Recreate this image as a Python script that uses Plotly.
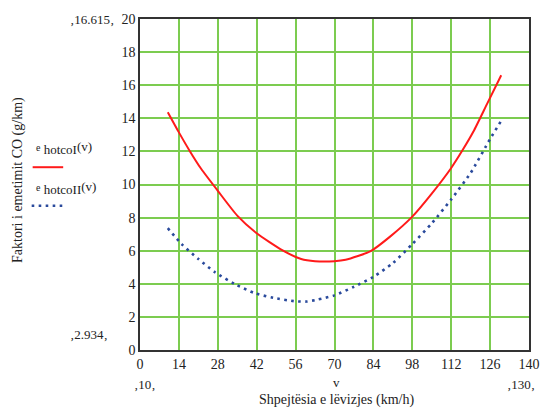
import plotly.graph_objects as go

# Data
v_red = [10, 14, 18, 22, 28, 35, 42, 51, 58, 63, 70, 74, 83, 90, 98, 105, 112, 116, 120, 125, 130]
co_red = [14.37, 13.15, 12.0, 10.95, 9.62, 8.12, 7.05, 6.05, 5.5, 5.37, 5.37, 5.45, 5.97, 6.85, 8.06, 9.45, 11.0, 12.05, 13.2, 14.9, 16.6]

v_blue = [10, 15, 21, 27, 34, 41, 48, 56, 60, 64, 70, 77, 84, 91, 98, 105, 112, 119, 126, 130]
co_blue = [7.36, 6.4, 5.5, 4.7, 4.0, 3.45, 3.15, 2.94, 2.93, 3.05, 3.3, 3.82, 4.42, 5.25, 6.4, 7.65, 9.1, 10.7, 12.75, 13.85]

x_ticks = [0, 14, 28, 42, 56, 70, 84, 98, 112, 126, 140]
y_ticks = [0, 2, 4, 6, 8, 10, 12, 14, 16, 18, 20]

W, H = 552, 413
L, R, T, B = 140, 535, 15, 350

def px(x):
    return (x - L) / (R - L)

def py(y):
    return (B - y) / (B - T)

FONT = "Liberation Serif, DejaVu Serif, serif"
RED = "#ff1a1a"
BLUE = "#2a4a9c"
GRID = "#7ccc50"
TXT = "#222"

fig = go.Figure()
fig.add_trace(go.Scatter(x=v_red, y=co_red, mode="lines",
                         line=dict(color=RED, width=2, shape="spline", smoothing=0.6), showlegend=False))
fig.add_trace(go.Scatter(x=v_blue, y=co_blue, mode="lines",
                         line=dict(color=BLUE, width=2.6, dash="2.6px,4.4px", shape="spline", smoothing=0.6),
                         showlegend=False))

axis_common = dict(showgrid=True, gridcolor=GRID, gridwidth=1.5, zeroline=False,
                   showline=True, linecolor="#333", linewidth=1.5, mirror=True,
                   ticks="", ticklen=0, tickfont=dict(family=FONT, size=14, color=TXT))

fig.update_layout(
    width=W, height=H,
    margin=dict(l=L, r=W - R, t=T, b=H - B),
    paper_bgcolor="white", plot_bgcolor="white",
    font=dict(family=FONT, size=13, color=TXT),
    xaxis=dict(range=[0, 140], tickvals=x_ticks, ticktext=[str(t) for t in x_ticks], **axis_common),
    yaxis=dict(range=[0, 20], tickvals=y_ticks, ticktext=[str(t) for t in y_ticks], **axis_common),
)

ann = []
def add_text(x, y, text, size=12, xanchor="center", yanchor="middle", angle=0):
    ann.append(dict(x=px(x), y=py(y), xref="paper", yref="paper", text=text, showarrow=False,
                    xanchor=xanchor, yanchor=yanchor, textangle=angle,
                    font=dict(family=FONT, size=size, color=TXT)))

add_text(91, 16, "\u201a16.615\u201a", size=13)
add_text(88, 334, "\u201a2.934\u201a", size=13)
add_text(145, 385, "\u201a10\u201a", size=13)
add_text(527, 385, "\u201a130\u201a", size=13)
add_text(340, 383, "v", size=13)
add_text(340, 401, "Shpejtësia e lëvizjes (km/h)", size=14)
add_text(16, 178, "Faktori i emetimit CO (g/km)", size=14, angle=-90)
add_text(32, 146, "<span style='font-size:10px'>e</span> <sub><span style='font-size:13px'>hotcoI</span></sub>(v)",
         size=13, xanchor="left")
add_text(32, 186, "<span style='font-size:10px'>e</span> <sub><span style='font-size:13px'>hotcoII</span></sub>(v)",
         size=13, xanchor="left")
fig.update_layout(annotations=ann)

fig.add_shape(type="line", xref="paper", yref="paper", x0=px(31), x1=px(62), y0=py(165), y1=py(165),
              line=dict(color=RED, width=2))
fig.add_shape(type="line", xref="paper", yref="paper", x0=px(30), x1=px(63), y0=py(204), y1=py(204),
              line=dict(color=BLUE, width=2.6, dash="2.6px,4.4px"))

fig.write_html("out.html")
